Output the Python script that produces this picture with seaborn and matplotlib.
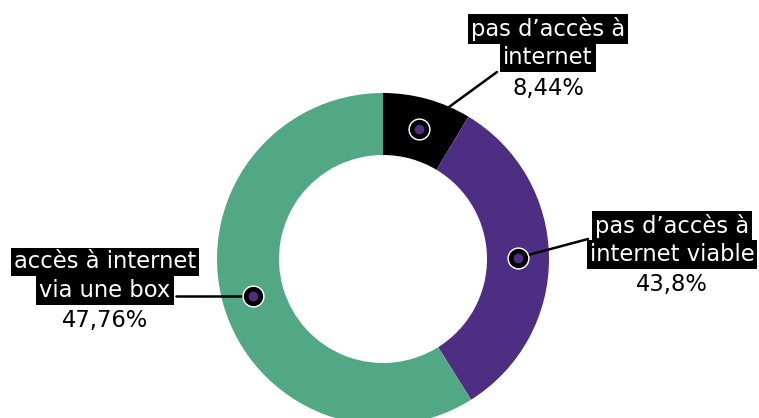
import numpy as np
import matplotlib
matplotlib.use("Agg")
import matplotlib.pyplot as plt
import seaborn as sns

# parts de l'anneau et textes affichés
categories = ["pas d\u2019accès à\ninternet", "pas d\u2019accès à\ninternet viable", "accès à internet\nvia une box"]
shares = [8.6, 32.5, 58.9]
pct_labels = ["8,44%", "43,8%", "47,76%"]
colors = ["#000000", "#4e2e82", "#52a884"]
dot_color = "#4e2e82"

sns.set_theme(style="white")
plt.rcParams["font.family"] = ["DejaVu Sans"]

fig = plt.figure(figsize=(7.59, 4.18), dpi=100)
ax = fig.add_axes([0, 0, 1, 1])

W, H = 759, 418
cx, cy = 383, H - 259
r_out, width = 166, 62

wedges, _ = ax.pie(shares, colors=colors, startangle=90, counterclock=False,
                   radius=r_out, center=(cx, cy),
                   wedgeprops=dict(width=width, edgecolor="none"))
ax.set_xlim(0, W)
ax.set_ylim(0, H)
ax.set_aspect("equal")
ax.axis("off")

# position des étiquettes (pixels, origine en bas)
label_pos = [(548, H - 29), (672, H - 226), (105, H - 262)]
line_end = [(497, H - 72), (588, H - 239), (176, None)]
line_gap = 28.5
fs = 16.3

r_mid = r_out - width / 2
for w, name, pct, (lx, ly), (ex, ey) in zip(wedges, categories, pct_labels, label_pos, line_end):
    ang = np.deg2rad((w.theta1 + w.theta2) / 2)
    dx, dy = cx + r_mid * np.cos(ang), cy + r_mid * np.sin(ang)
    if ey is None:
        ey = dy
    ax.plot([dx, ex], [dy, ey], color="black", lw=1.8, zorder=3)
    ax.plot(dx, dy, "o", ms=16, mfc="white", mec="none", zorder=4)
    ax.plot(dx, dy, "o", ms=10.5, mfc=dot_color, mec="black", mew=3.4, zorder=5)
    for i, line in enumerate(name.split("\n")):
        ax.text(lx, ly - i * line_gap, line, ha="center", va="center", color="white",
                fontsize=fs, zorder=6,
                bbox=dict(boxstyle="square,pad=0.13", fc="black", ec="none"))
    ax.text(lx, ly - 2 * line_gap - 2, pct, ha="center", va="center", color="black",
            fontsize=fs, zorder=6)

fig.savefig("out.png", dpi=100)
